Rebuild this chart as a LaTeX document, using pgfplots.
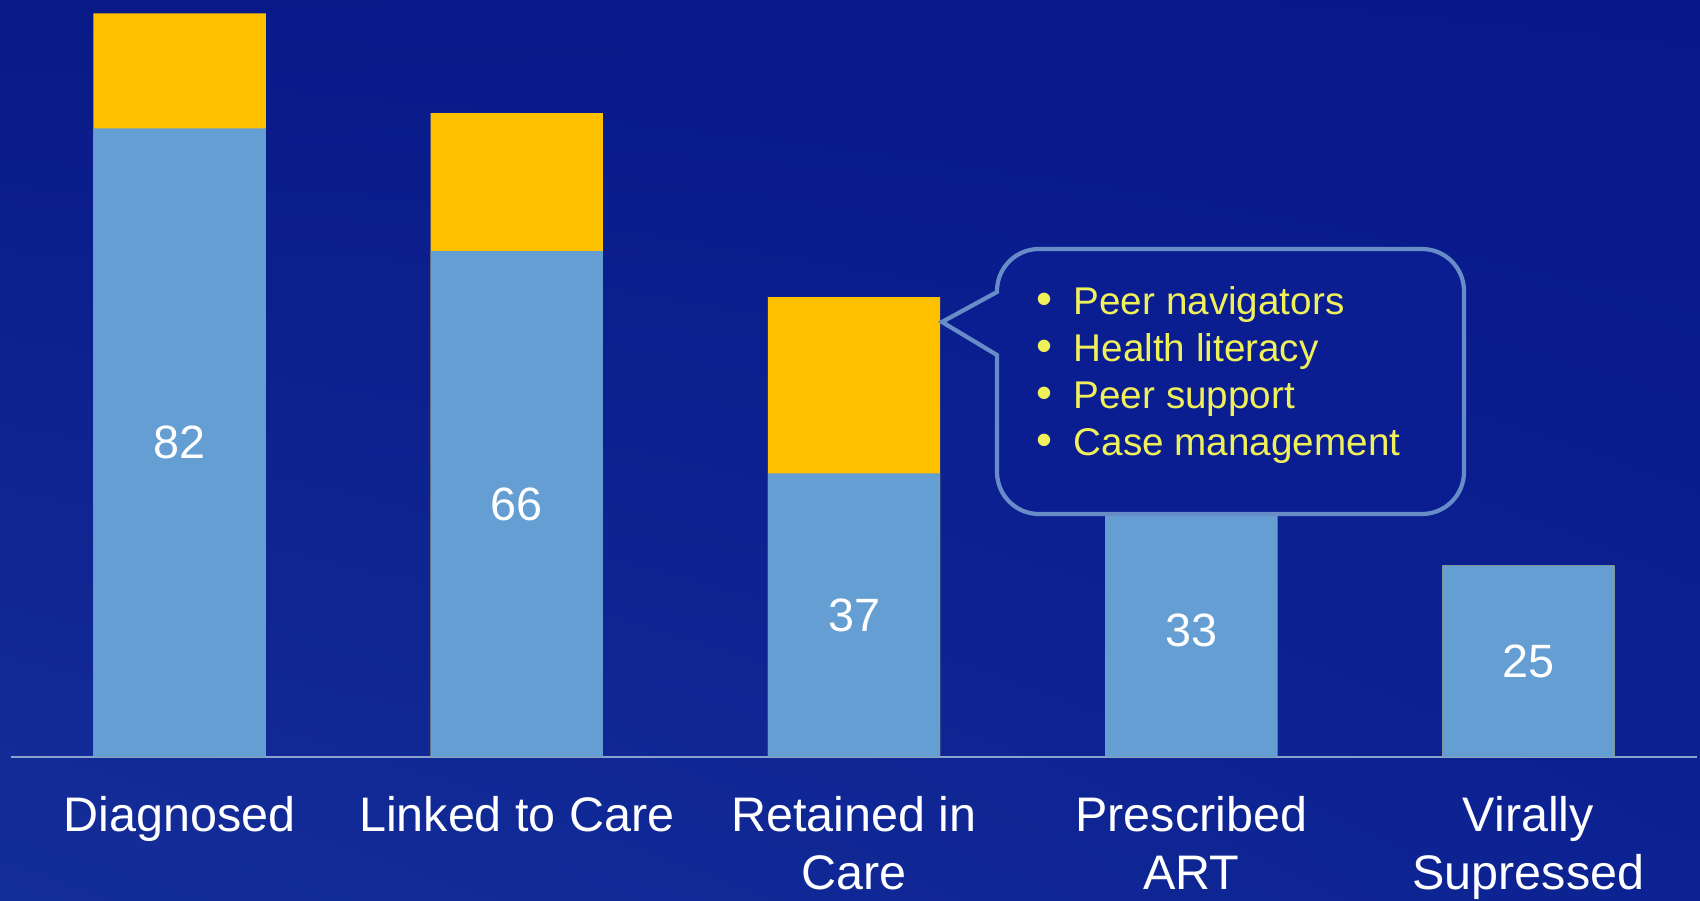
\documentclass[border=0pt]{standalone}
\usepackage{pgfplots}
\pgfplotsset{compat=1.18}
\usepackage{pgfplotstable}
\usetikzlibrary{shadings}
\usepackage{fontspec}
\setmainfont{Liberation Sans}

\definecolor{bgTL}{RGB}{8,26,136}
\definecolor{bgTR}{RGB}{8,24,138}
\definecolor{bgBL}{RGB}{20,46,152}
\definecolor{bgBR}{RGB}{12,34,146}
\definecolor{barB}{RGB}{100,158,210}
\definecolor{barY}{RGB}{255,192,0}
\definecolor{lineC}{RGB}{140,162,206}
\definecolor{calloutEdge}{RGB}{104,140,200}
\definecolor{calloutFill}{RGB}{10,30,146}
\definecolor{calloutText}{RGB}{240,240,90}

\pgfplotstableread{
x blue extra
0 82 15
1 66 18
2 37 23
3 33 0
4 25 0
}\funnel

\begin{document}
\begin{tikzpicture}
\shade[upper left=bgTL, upper right=bgTR, lower left=bgBL, lower right=bgBR] (0,0) rectangle (17,9);
\useasboundingbox (0,0) rectangle (17,9);
\begin{axis}[
  at={(0.11cm,1.43cm)}, anchor=south west,
  scale only axis, width=16.86cm, height=7.57cm,
  xmin=-0.5, xmax=4.5, ymin=0, ymax=98.75,
  axis y line=none, axis x line=bottom,
  x axis line style={-, draw=lineC, line width=0.7pt},
  xtick={0,1,2,3,4},
  xticklabels={Diagnosed, Linked to Care, {Retained in\\Care}, {Prescribed\\ART}, {Virally\\Supressed}},
  typeset ticklabels with strut,
  xticklabel style={font=\fontsize{13.8}{16.5}\selectfont, text=white, align=center, anchor=north, yshift=-6pt},
  major tick length=0pt,
  clip=false,
  /pgf/number format/assume math mode=true,
]
\addplot[ybar, bar width=0.511, bar shift=0pt, fill=barY, draw=none]
  table[x=x, y expr=\thisrow{blue}+\thisrow{extra}] {\funnel};
\addplot[ybar, bar width=0.511, bar shift=0pt, fill=barB, draw=none]
  table[x=x, y=blue] {\funnel};
\addplot[draw=none, mark=none, nodes near coords, point meta=explicit,
  nodes near coords style={anchor=center, text=white, font=\fontsize{13.3}{16}\selectfont}]
  table[x=x, y expr=\thisrow{blue}/2, meta=blue] {\funnel};
\end{axis}
% callout
\draw[line width=1.2pt, draw=calloutEdge, fill=calloutFill]
  (9.42,5.78) -- (9.97,6.08) [rounded corners=0.42cm] -- (9.97,6.51) -- (14.64,6.51) -- (14.64,3.86) -- (9.97,3.86) [sharp corners] -- (9.97,5.45) -- cycle;
\foreach \yy/\txt in {5.85/Peer navigators, 5.38/Health literacy, 4.92/Peer support, 4.45/Case management}{
  \node[anchor=base west, inner sep=0pt, text=calloutText, font=\fontsize{11}{13.3}\selectfont] at (10.36,\yy) {\makebox[0.37cm][l]{\fontsize{13}{13}\selectfont •}\txt};
}
\end{tikzpicture}
\end{document}
